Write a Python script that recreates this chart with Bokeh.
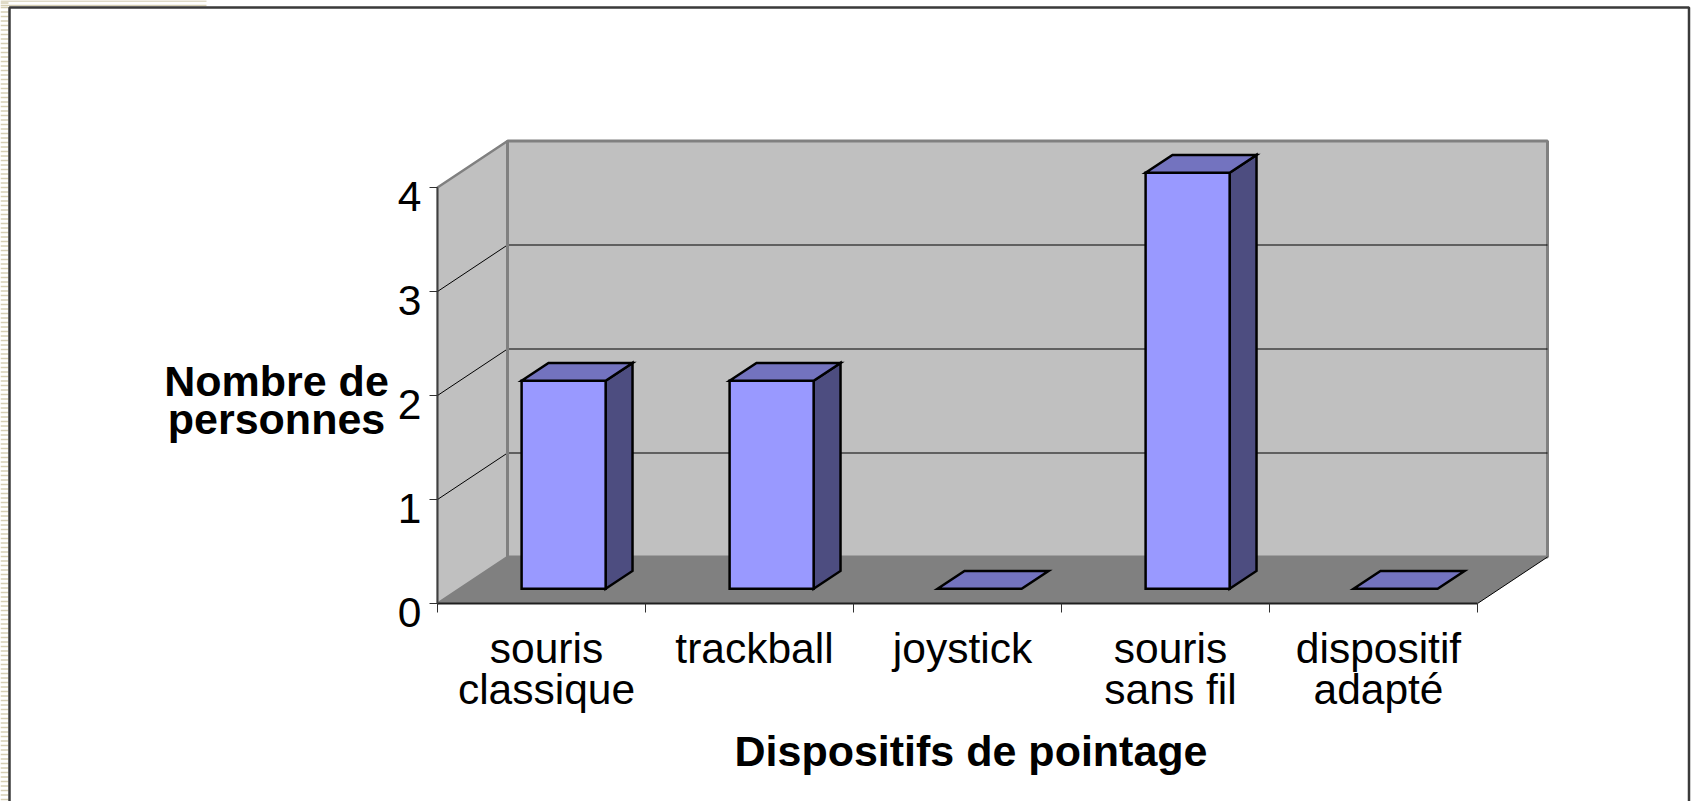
from bokeh.plotting import figure
from bokeh.models import Range1d
from bokeh.core.properties import value
from bokeh.embed import file_html
from bokeh.resources import INLINE

# ---- data ----
categories = ["souris\nclassique", "trackball", "joystick", "souris\nsans fil", "dispositif\nadapté"]
values = [2, 2, 0, 4, 0]
y_ticks = [0, 1, 2, 3, 4]
y_max = 4
x_title = "Dispositifs de pointage"
y_title = ["Nombre de", "personnes"]

# ---- layout (pixel scale of the front plane) ----
W, H = 1691, 801
PX_X = 208.0   # px per category
PX_Y = 104.0   # px per unit
X0_C = 437.0   # canvas x of category-axis origin
Y0_C = 603.0   # canvas y (from top) of value 0
DX = 70 / PX_X      # depth offset in data units
DY = 46.5 / PX_Y
F1, F2 = 0.316, 0.70
BW = 0.404
n = len(categories)
TXT_SHIFT = 12  # px, text baseline correction

p = figure(width=W, height=H, output_backend="svg", toolbar_location=None,
           x_range=Range1d(-X0_C / PX_X, (W - X0_C) / PX_X),
           y_range=Range1d(-(H - Y0_C) / PX_Y, Y0_C / PX_Y),
           x_axis_location=None, y_axis_location=None, min_border=0,
           background_fill_color="white", border_fill_color="white")
p.grid.visible = False
p.outline_line_color = None

FONT = value("Liberation Sans")


def px(cx):
    return (cx - X0_C) / PX_X


def py(cy):
    return (Y0_C - cy) / PX_Y


# walls and floor
p.patch([0, DX, DX, 0], [0, DY, y_max + DY, y_max], fill_color="#C0C0C0",
        line_color="#808080", line_width=2.5)
p.patch([DX, n + DX, n + DX, DX], [DY, DY, y_max + DY, y_max + DY],
        fill_color="#C0C0C0", line_color="#808080", line_width=3)
p.patch([0, n, n + DX, DX], [0, 0, DY, DY], fill_color="#808080", line_color=None)
p.line([n, n + DX], [0, DY], line_color="black", line_width=1)

# gridlines
grid_vals = [v for v in y_ticks if 0 < v < y_max]
p.segment(x0=[DX] * len(grid_vals), y0=[v + DY for v in grid_vals],
          x1=[n + DX] * len(grid_vals), y1=[v + DY for v in grid_vals],
          line_color="black", line_width=1)
p.segment(x0=[0] * len(grid_vals), y0=grid_vals,
          x1=[DX] * len(grid_vals), y1=[v + DY for v in grid_vals],
          line_color="black", line_width=1)
p.line([DX, DX], [DY, y_max + DY], line_color="#808080", line_width=3)

# axes lines and ticks
p.line([0, n], [0, 0], line_color="#202020", line_width=2)
p.line([0, 0], [0, y_max], line_color="#404040", line_width=1.5)
p.segment(x0=[-8 / PX_X] * len(y_ticks), y0=y_ticks, x1=[0] * len(y_ticks), y1=y_ticks,
          line_color="#303030", line_width=1)
xt = list(range(n + 1))
p.segment(x0=xt, y0=[0] * len(xt), x1=xt, y1=[-9 / PX_Y] * len(xt),
          line_color="#303030", line_width=1)

# bars
front_xs, front_ys, side_xs, side_ys, top_xs, top_ys = [], [], [], [], [], []
sx1, sy1, sx2, sy2 = F1 * DX, F1 * DY, F2 * DX, F2 * DY
for i, v in enumerate(values):
    xl, xr = i + 0.5 - BW / 2, i + 0.5 + BW / 2
    if v > 0:
        front_xs.append([xl + sx1, xr + sx1, xr + sx1, xl + sx1])
        front_ys.append([sy1, sy1, v + sy1, v + sy1])
        side_xs.append([xr + sx1, xr + sx2, xr + sx2, xr + sx1])
        side_ys.append([sy1, sy2, v + sy2, v + sy1])
    top_xs.append([xl + sx1, xr + sx1, xr + sx2, xl + sx2])
    top_ys.append([v + sy1, v + sy1, v + sy2, v + sy2])

p.patches(side_xs, side_ys, fill_color="#4D4D80", line_color="black", line_width=2.5,
          line_join="miter")
p.patches(front_xs, front_ys, fill_color="#9999FF", line_color="black", line_width=2.5,
          line_join="miter")
p.patches(top_xs, top_ys, fill_color="#7373BF", line_color="black", line_width=2.5,
          line_join="miter")

# y tick labels
p.text(x=[-16 / PX_X] * len(y_ticks), y=[v - (21 - TXT_SHIFT) / PX_Y for v in y_ticks],
       text=[str(v) for v in y_ticks], text_font=FONT, text_font_size="42.5px",
       text_align="right", text_baseline="alphabetic", text_color="black")

# category labels
lx, ly, lt = [], [], []
for i, c in enumerate(categories):
    for j, line in enumerate(c.split("\n")):
        lx.append(i + 0.5 + 5 / PX_X)
        ly.append(-(57 - TXT_SHIFT + 41 * j) / PX_Y)
        lt.append(line)
p.text(x=lx, y=ly, text=lt, text_font=FONT, text_font_size="42.5px",
       text_align="center", text_baseline="alphabetic", text_color="black")

# axis titles
p.text(x=[px(970.5)], y=[py(762.3 - TXT_SHIFT)], text=[x_title], text_font=FONT,
       text_font_size="43px", text_font_style="bold", text_align="center",
       text_baseline="alphabetic", text_color="black")
p.text(x=[px(276)] * 2, y=[py(392.7 - TXT_SHIFT), py(430.7 - TXT_SHIFT)], text=y_title,
       text_font=FONT, text_font_size="43px", text_font_style="bold", text_align="center",
       text_baseline="alphabetic", text_color="black")

# page decoration: striped strip at the left and thin lines at the top
stripe_y = [py(2.5 + 4.5 * k) for k in range(int(H / 4.5))]
p.segment(x0=[px(0)] * len(stripe_y), y0=stripe_y, x1=[px(8)] * len(stripe_y), y1=stripe_y,
          line_color="#D6CFB4", line_width=1.5)
p.segment(x0=[px(0), px(0)], y0=[py(0.5), py(5)], x1=[px(206), px(206)], y1=[py(0.5), py(5)],
          line_color="#D6CFB4", line_width=1.5)

# chart frame (left, top, right)
p.line([px(9), px(9), px(1688.5), px(1688.5)],
       [py(H), py(7), py(7), py(H)], line_color="#3A3A3A", line_width=2.5)

open("out.html", "w").write(file_html(p, INLINE))
